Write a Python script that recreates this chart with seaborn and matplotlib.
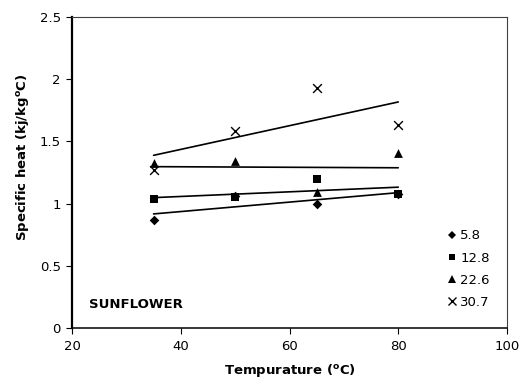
import matplotlib
matplotlib.use("Agg")
import matplotlib.pyplot as plt
from matplotlib.lines import Line2D
import seaborn as sns
import pandas as pd

temperature = [35, 50, 65, 80]
series_labels = ["5.8", "12.8", "22.6", "30.7"]
heat_5_8 = [0.87, 1.06, 1.00, 1.08]
heat_12_8 = [1.035, 1.05, 1.195, 1.08]
heat_22_6 = [1.33, 1.345, 1.09, 1.405]
heat_30_7 = [1.27, 1.58, 1.93, 1.63]
x_ticks = [20, 40, 60, 80, 100]
y_ticks = [0, 0.5, 1, 1.5, 2, 2.5]

series_values = [heat_5_8, heat_12_8, heat_22_6, heat_30_7]
rows = []
for lab, vals in zip(series_labels, series_values):
    for t, v in zip(temperature, vals):
        rows.append({"temp": t, "heat": v, "moisture": lab})
df = pd.DataFrame(rows)

sns.set_style("white")
plt.rcParams["font.family"] = ["DejaVu Sans"]
plt.rcParams["mathtext.fontset"] = "dejavusans"
plt.rcParams["text.color"] = "black"
plt.rcParams["axes.labelcolor"] = "black"

fig = plt.figure(figsize=(5.22, 3.90), dpi=100)
ax = fig.add_axes([72 / 522, 62 / 390, (507 - 72) / 522, (328 - 17) / 390])

markers = {"5.8": "D", "12.8": "s", "22.6": "^", "30.7": "x"}
sizes = {"5.8": 24, "12.8": 30, "22.6": 40, "30.7": 40}
for lab in series_labels:
    sub = df[df["moisture"] == lab]
    sns.scatterplot(data=sub, x="temp", y="heat", marker=markers[lab], color="black",
                    s=sizes[lab], linewidth=0 if lab != "30.7" else 1.0,
                    edgecolor="black", ax=ax, legend=False, zorder=3)
    sns.regplot(data=sub, x="temp", y="heat", scatter=False, ci=None, truncate=True,
                color="black", line_kws={"lw": 1.2}, ax=ax)

ax.set_xlim(20, 100)
ax.set_ylim(0, 2.5)
ax.set_xticks(x_ticks)
ax.set_yticks(y_ticks)
ax.set_xticklabels([str(v) for v in x_ticks])
ax.set_yticklabels(["0", "0.5", "1", "1.5", "2", "2.5"])
ax.tick_params(axis="both", direction="out", length=4, width=0.8, labelsize=9.5,
               colors="black", pad=5, left=True, bottom=True)
ax.tick_params(axis="y", pad=4)

ax.set_xlabel(r"Tempurature ($^{\mathbf{o}}$C)", fontsize=9.5, fontweight="bold",
              labelpad=6, color="black")
ax.set_ylabel(r"Specific heat (kj/kg$^{\mathbf{o}}$C)", fontsize=9.5, fontweight="bold",
              color="black")
ax.yaxis.set_label_coords(-0.095, 0.55)

for side in ["top", "right"]:
    ax.spines[side].set_visible(True)
    ax.spines[side].set_color("#404040")
    ax.spines[side].set_linewidth(0.8)
ax.spines["left"].set_color("black")
ax.spines["left"].set_linewidth(1.6)
ax.spines["bottom"].set_color("black")
ax.spines["bottom"].set_linewidth(1.1)

ax.text(23.1, 0.185, "SUNFLOWER", fontsize=9.5, fontweight="bold", va="center",
        ha="left", color="black")

handles = []
for lab in series_labels:
    m = markers[lab]
    ms = {"D": 4.5, "s": 5, "^": 6, "x": 6}[m]
    handles.append(Line2D([], [], linestyle="none", marker=m, color="black",
                          markersize=ms, markeredgewidth=1.0 if m == "x" else 0))
leg = ax.legend(handles, series_labels, frameon=False, loc="upper left",
                bbox_to_anchor=(0.853, 0.334), handlelength=0.6, handletextpad=0.3,
                labelspacing=0.7, fontsize=9.5, borderaxespad=0)
for t in leg.get_texts():
    t.set_color("black")

fig.savefig("out.png", dpi=100, facecolor="white")
